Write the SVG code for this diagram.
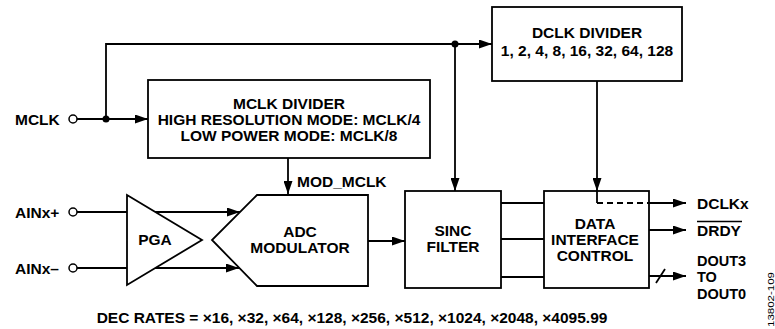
<svg xmlns="http://www.w3.org/2000/svg" width="775" height="329" viewBox="0 0 775 329">
<style>
.ln{stroke:#000;stroke-width:1.8;fill:none}
.bx{stroke:#000;stroke-width:1.8;fill:#fff}
.t{font-family:"Liberation Sans",Arial,sans-serif;font-weight:bold;font-size:15.5px;fill:#000}
.c{text-anchor:middle}
.s{font-size:14.5px}
.pin{stroke:#000;stroke-width:1.5;fill:#fff}
</style>
<defs>
<marker id="ah" markerWidth="13" markerHeight="9" refX="13" refY="4.5" orient="auto" markerUnits="userSpaceOnUse">
<path d="M0,0 L13,4.5 L0,9 Z" fill="#000"/>
</marker>
</defs>
<g id="connectors">
<line class="ln" x1="77" y1="119" x2="148" y2="119" marker-end="url(#ah)"/>
<polyline class="ln" points="106,119 106,44 492,44" marker-end="url(#ah)"/>
<line class="ln" x1="455" y1="44" x2="455" y2="191" marker-end="url(#ah)"/>
<line class="ln" x1="288" y1="158" x2="288" y2="194" marker-end="url(#ah)"/>
<line class="ln" x1="597" y1="81" x2="597" y2="191" marker-end="url(#ah)"/>
<line class="ln" x1="77" y1="212" x2="127" y2="212"/>
<line class="ln" x1="155" y1="212" x2="240" y2="212" marker-end="url(#ah)"/>
<line class="ln" x1="77" y1="268" x2="127" y2="268"/>
<line class="ln" x1="155" y1="268" x2="239" y2="268" marker-end="url(#ah)"/>
<line class="ln" x1="368" y1="241" x2="405" y2="241" marker-end="url(#ah)"/>
<line class="ln" x1="501" y1="203" x2="544" y2="203"/>
<line class="ln" x1="501" y1="239" x2="544" y2="239"/>
<line class="ln" x1="501" y1="277" x2="544" y2="277"/>
<line class="ln" x1="649" y1="203" x2="686" y2="203" marker-end="url(#ah)"/>
<line class="ln" x1="649" y1="230" x2="686" y2="230" marker-end="url(#ah)"/>
<line class="ln" x1="649" y1="276" x2="686" y2="276" marker-end="url(#ah)"/>
<line class="ln" x1="656" y1="283" x2="665" y2="269"/>
<circle cx="106" cy="119" r="3.5" fill="#000"/>
<circle cx="455" cy="44" r="3.5" fill="#000"/>
</g>
<g id="mclk">
<circle class="pin" cx="73" cy="119" r="4"/>
<text class="t" x="15" y="125">MCLK</text>
</g>
<g id="ainp">
<circle class="pin" cx="73" cy="212" r="4"/>
<text class="t" x="15" y="218">AINx+</text>
</g>
<g id="ainm">
<circle class="pin" cx="73" cy="268" r="4"/>
<text class="t" x="15" y="274">AINx–</text>
</g>
<g id="mclk-divider">
<rect class="bx" x="148" y="80" width="282" height="78"/>
<text class="t c" x="289" y="109">MCLK DIVIDER</text>
<text class="t c" x="289" y="125">HIGH RESOLUTION MODE: MCLK/4</text>
<text class="t c" x="289" y="141">LOW POWER MODE: MCLK/8</text>
</g>
<g id="dclk-divider">
<rect class="bx" x="492" y="7" width="190" height="74"/>
<text class="t c" x="587" y="38">DCLK DIVIDER</text>
<text class="t c" x="587" y="56">1, 2, 4, 8, 16, 32, 64, 128</text>
</g>
<g id="mod-mclk-label">
<text class="t" x="297" y="187">MOD_MCLK</text>
</g>
<g id="pga">
<polygon class="bx" points="127,195 202,240 127,285"/>
<text class="t c" x="155" y="245">PGA</text>
</g>
<g id="adc">
<polygon class="bx" points="257,195 368,195 368,286 257,286 212,240"/>
<text class="t c" x="300" y="237">ADC</text>
<text class="t c" x="300" y="253">MODULATOR</text>
</g>
<g id="sinc">
<rect class="bx" x="405" y="191" width="96" height="97"/>
<text class="t c" x="453" y="236">SINC</text>
<text class="t c" x="453" y="252">FILTER</text>
</g>
<g id="dic">
<rect class="bx" x="544" y="191" width="105" height="97"/>
<line class="ln" x1="597" y1="191" x2="597" y2="203"/>
<line class="ln" x1="597" y1="203" x2="649" y2="203" stroke-dasharray="6,4"/>
<text class="t c" x="595" y="229">DATA</text>
<text class="t c" x="595" y="245">INTERFACE</text>
<text class="t c" x="595" y="261">CONTROL</text>
</g>
<g id="outputs">
<text class="t" x="697" y="209">DCLKx</text>
<text class="t" x="697" y="236">DRDY</text>
<line x1="697" y1="221.5" x2="742" y2="221.5" stroke="#000" stroke-width="1.5"/>
<text class="t s" x="697" y="266">DOUT3</text>
<text class="t s" x="697" y="282.3">TO</text>
<text class="t s" x="697" y="298.6">DOUT0</text>
</g>
<g id="dec-rates">
<text class="t c" x="352" y="323">DEC RATES = ×16, ×32, ×64, ×128, ×256, ×512, ×1024, ×2048, ×4095.99</text>
</g>
<text x="774" y="299.5" transform="rotate(-90 774 299.5)" font-family="'Liberation Sans',Arial,sans-serif" font-size="9" fill="#000" text-anchor="middle" textLength="55" lengthAdjust="spacingAndGlyphs">13802-109</text>
</svg>
